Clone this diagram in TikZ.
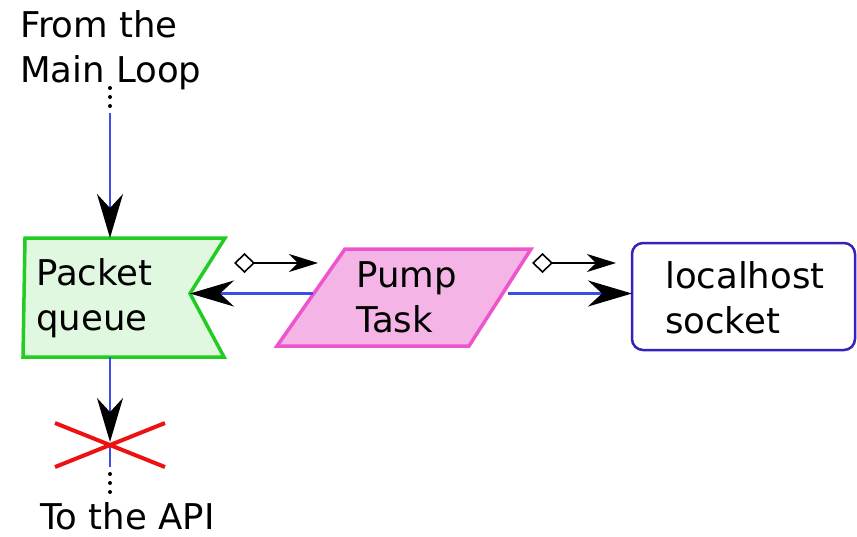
\documentclass[tikz,border=0pt]{standalone}
\usepackage{fontspec}
\setmainfont{DejaVu Sans}
\usetikzlibrary{arrows.meta}
\definecolor{qgreen}{HTML}{22CC22}
\definecolor{qfill}{HTML}{E0F7E0}
\definecolor{ppink}{HTML}{EE55CC}
\definecolor{pfill}{HTML}{F4B4E6}
\definecolor{lblue}{HTML}{3B4FE8}
\definecolor{sblue}{HTML}{3322BB}
\definecolor{xred}{HTML}{EE1111}
\begin{document}
\begin{tikzpicture}[x=1pt,y=-1pt,
  lbl/.style={anchor=base west,inner sep=0pt,align=left,font=\fontsize{35.5}{45}\selectfont},
  flow/.style={draw=lblue,line width=2.5pt,-{Stealth[length=44pt,width=26pt,inset=14pt,color=black]}},
  plainflow/.style={draw=lblue,line width=2.5pt},
  ctrl/.style={draw=black,line width=1.6pt,{Diamond[open,length=21pt,width=20pt,fill=white]}-{Stealth[length=29pt,width=18pt,inset=9pt]}},
  dots/.style={line width=4pt,line cap=round,dash pattern=on 0pt off 9pt}
]
\useasboundingbox (0,0) rectangle (857,536);

% Packet queue
\draw[draw=qgreen,fill=qfill,line width=3.5pt,line join=miter]
  (25,238) coordinate (qtl) -- (225,238) -- (190,293.5) coordinate (qnotch) -- (224,357) -- (23,357) -- cycle;
\coordinate (qtop) at (110,238);
\coordinate (qbot) at (110,357);
\node[lbl] (qtext) at (36,330) {Packet\\queue};

% Pump task
\draw[draw=ppink,fill=pfill,line width=3.5pt,line join=miter]
  (345,249) -- (531,249) -- (469,346) -- (277,346) -- cycle;
\coordinate (pleft) at (313,293.5);
\coordinate (pright) at (508,293.5);
\node[lbl] (ptext) at (356,332) {Pump\\Task};

% Socket
\draw[draw=sblue,line width=2.5pt,rounded corners=11pt,fill=white]
  (632,243) rectangle (855,350);
\coordinate (sleft) at (632,293.5);
\node[lbl] (stext) at (665,333) {localhost\\socket};

% From the main loop
\node[lbl] (from) at (20,82) {From the\\Main Loop};
\coordinate (fromdot) at (110,88);
\coordinate (fromdotend) at (110,107);
\coordinate (fromline) at (110,113);
\draw[dots] (fromdot) -- (fromdotend);
\draw[flow] (fromline) -- (qtop);

% To the API
\coordinate (xc) at (110,445);
\coordinate (xtip) at (110,442);
\coordinate (xlow) at (110,467);
\coordinate (todot) at (110,474);
\coordinate (todotend) at (110,493);
\draw[plainflow] (xc) -- (xlow);
\draw[xred,line width=4pt] (55,423) -- (165,467) (55,467) -- (165,423);
\draw[flow] (qbot) -- (xtip);
\draw[dots] (todot) -- (todotend);
\node[lbl] (toapi) at (40,529) {To the API};

% Connectors between pump and others
\draw[flow] (pleft) -- (qnotch);
\draw[flow] (pright) -- (sleft);

\coordinate (c1a) at (234,263);
\coordinate (c1b) at (318,263);
\coordinate (c2a) at (532,263);
\coordinate (c2b) at (616,263);
\draw[ctrl] (c1a) -- (c1b);
\draw[ctrl] (c2a) -- (c2b);
\end{tikzpicture}
\end{document}
